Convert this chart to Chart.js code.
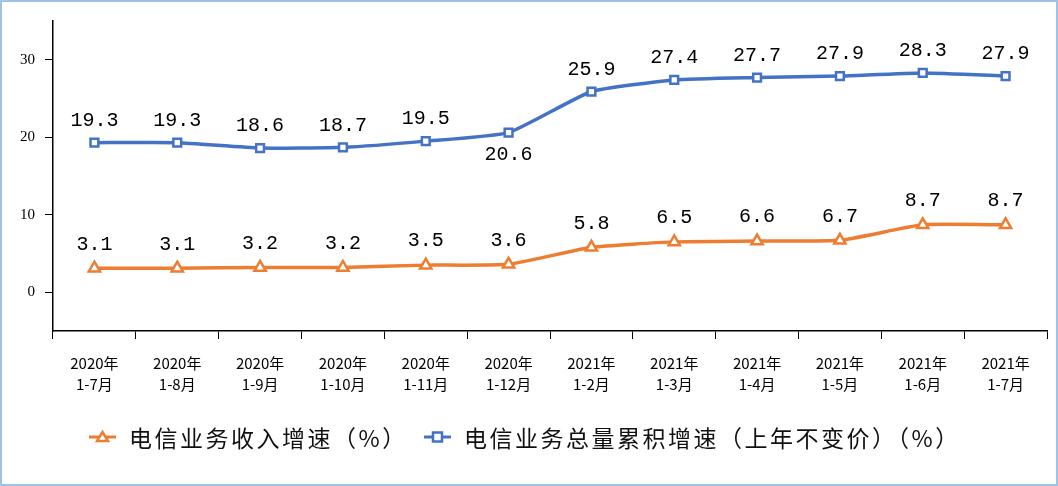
<!DOCTYPE html>
<html>
<head>
<meta charset="utf-8">
<script src="https://cdn.jsdelivr.net/npm/chart.js@4"></script>
<style>
  body { margin: 0; background: #fff; }
  #wrap { width: 1058px; height: 486px; box-sizing: border-box; border: 2px solid #9dc3e6; }
  canvas { display: block; }
</style>
</head>
<body>
<div id="wrap"><canvas id="chart" width="1054" height="482"></canvas></div>
<script>
const categories = [
  ["2020年", "1-7月"], ["2020年", "1-8月"], ["2020年", "1-9月"], ["2020年", "1-10月"],
  ["2020年", "1-11月"], ["2020年", "1-12月"], ["2021年", "1-2月"], ["2021年", "1-3月"],
  ["2021年", "1-4月"], ["2021年", "1-5月"], ["2021年", "1-6月"], ["2021年", "1-7月"]
];
const revenueGrowth = [3.1, 3.1, 3.2, 3.2, 3.5, 3.6, 5.8, 6.5, 6.6, 6.7, 8.7, 8.7];
const volumeGrowth = [19.3, 19.3, 18.6, 18.7, 19.5, 20.6, 25.9, 27.4, 27.7, 27.9, 28.3, 27.9];
const yTicks = [0, 10, 20, 30];
const seriesNames = ["电信业务收入增速（%）", "电信业务总量累积增速（上年不变价）（%）"];

const orange = "#ed7d31";
const blue = "#4472c4";

// value labels above (or below) each point
const valueLabels = {
  id: "valueLabels",
  afterDatasetsDraw(chart) {
    const ctx = chart.ctx;
    ctx.save();
    ctx.font = "20px 'Liberation Mono', monospace";
    ctx.fillStyle = "#000";
    ctx.textAlign = "center";
    ctx.textBaseline = "middle";
    chart.data.datasets.forEach((ds, i) => {
      chart.getDatasetMeta(i).data.forEach((pt, j) => {
        let dy = i === 0 ? -24 : -22;
        if (i === 1 && j === 5) dy = 22;
        ctx.fillText(ds.data[j].toFixed(1), pt.x, pt.y + dy);
      });
    });
    ctx.restore();
  }
};

// legend: line + marker, then text
const lineLegend = {
  id: "lineLegend",
  afterDraw(chart) {
    const ctx = chart.ctx;
    ctx.save();
    ctx.font = "23px 'Noto Sans CJK SC', sans-serif";
    ctx.letterSpacing = "2.5px";
    ctx.textBaseline = "middle";
    const y = 435;
    const markX = [87, 422];
    const markW = 27;
    chart.data.datasets.forEach((ds, i) => {
      const x = markX[i];
      ctx.strokeStyle = ds.borderColor;
      ctx.lineWidth = 3;
      ctx.beginPath();
      ctx.moveTo(x, y);
      ctx.lineTo(x + markW, y);
      ctx.stroke();
      ctx.fillStyle = "#fff";
      ctx.lineWidth = 2.5;
      const cx = x + markW / 2;
      ctx.beginPath();
      if (i === 0) {
        ctx.moveTo(cx, y - 5); ctx.lineTo(cx + 5.5, y + 4); ctx.lineTo(cx - 5.5, y + 4); ctx.closePath();
      } else {
        ctx.rect(cx - 4.5, y - 4.5, 9, 9);
      }
      ctx.fill();
      ctx.stroke();
      ctx.fillStyle = "#111";
      ctx.fillText(seriesNames[i], x + markW + 13, y + 1);
    });
    ctx.restore();
  }
};

new Chart(document.getElementById("chart"), {
  type: "line",
  data: {
    labels: categories,
    datasets: [
      {
        label: seriesNames[0],
        data: revenueGrowth,
        borderColor: orange,
        backgroundColor: "#fff",
        borderWidth: 3.5,
        pointStyle: "triangle",
        pointRadius: 6.5,
        pointBorderWidth: 2.5,
        tension: 0.15,
      },
      {
        label: seriesNames[1],
        data: volumeGrowth,
        borderColor: blue,
        backgroundColor: "#fff",
        borderWidth: 3.5,
        pointStyle: "rect",
        pointRadius: 5.5,
        pointBorderWidth: 2.5,
        tension: 0.15,
      },
    ],
  },
  options: {
    responsive: false,
    animation: false,
    layout: { padding: { top: 14, right: 7, left: 0, bottom: 0 } },
    plugins: {
      legend: { display: false },
      tooltip: { enabled: false },
    },
    scales: {
      x: {
        offset: true,
        afterFit: (s) => { s.height = 153; },
        grid: { offset: true, drawOnChartArea: false, drawTicks: true, tickLength: 8, color: "#000", lineWidth: 1 },
        border: { display: true, color: "#000", width: 1.5 },
        ticks: {
          color: "#000",
          padding: 14,
          maxRotation: 0,
          autoSkip: false,
          font: { family: "'Noto Sans CJK SC', sans-serif", size: 15, lineHeight: 1.4 },
        },
      },
      y: {
        min: -5,
        max: 35,
        afterFit: (s) => { s.width = 51; },
        afterBuildTicks: (s) => { s.ticks = yTicks.map(v => ({ value: v })); },
        grid: { drawOnChartArea: false, drawTicks: true, tickLength: 8, color: "#000" },
        border: { display: true, color: "#000", width: 1.5 },
        ticks: {
          color: "#000",
          padding: 10,
          font: { family: "'Liberation Serif', serif", size: 15 },
        },
      },
    },
  },
  plugins: [valueLabels, lineLegend],
});
</script>
</body>
</html>
